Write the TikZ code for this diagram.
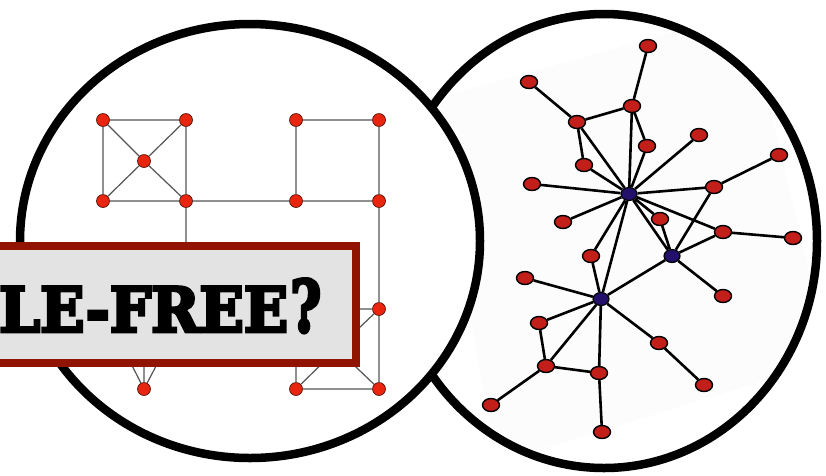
\documentclass[tikz,border=0pt]{standalone}
\usepackage{fontspec}
\usepackage{graphicx}
\newfontfamily\bannerfont[FakeBold=5]{DejaVu Serif Bold}
\usetikzlibrary{shapes.geometric}
\definecolor{lred}{RGB}{232,37,14}
\definecolor{ledge}{RGB}{85,85,85}
\definecolor{rred}{RGB}{194,31,27}
\definecolor{rblue}{RGB}{34,16,106}
\definecolor{bannerred}{RGB}{145,20,0}
\definecolor{bannergray}{RGB}{227,227,227}
\begin{document}
\begin{tikzpicture}[x=1pt,y=-1pt,
  lnode/.style={circle,fill=lred,draw=black!70!lred,line width=0.6pt,minimum size=13pt,inner sep=0pt},
  ledgestyle/.style={draw=ledge,line width=1.2pt},
  rnode/.style={ellipse,fill=rred,draw=black,line width=1.4pt,minimum width=17pt,minimum height=13pt,inner sep=0pt},
  hnode/.style={ellipse,fill=rblue,draw=black,line width=1.2pt,minimum width=16pt,minimum height=13pt,inner sep=0pt},
  redge/.style={draw=black,line width=2.6pt},
  ring/.style={fill=white,draw=black,line width=8.5pt}]
\clip (0,0) rectangle (826,475);
\fill[white] (0,0) rectangle (826,475);

% right circle (photo)
\filldraw[ring] (604,241) ellipse [x radius=213pt, y radius=227pt];
\begin{scope}
  \clip (604,241) ellipse [x radius=208pt, y radius=222pt];
  \fill[black!1] (430,100) -- (747,12) -- (830,360) -- (497,463) -- cycle;
\end{scope}

% right graph nodes
\node[rnode] (n1) at (648,46) {};
\node[rnode] (n2) at (529,82) {};
\node[rnode] (n3) at (632,106) {};
\node[rnode] (n4) at (577,122) {};
\node[rnode] (n5) at (647,146) {};
\node[rnode] (n6) at (699,135) {};
\node[rnode] (n7) at (584,165) {};
\node[rnode] (n8) at (532,184) {};
\node[hnode] (h1) at (629,194) {};
\node[rnode] (n9) at (779,155) {};
\node[rnode] (n10) at (714,187) {};
\node[rnode] (n11) at (563,222) {};
\node[rnode] (n12) at (660,219) {};
\node[rnode] (n13) at (723,232) {};
\node[rnode] (n14) at (793,238) {};
\node[hnode] (h2) at (672,256) {};
\node[rnode] (n15) at (591,256) {};
\node[rnode] (n16) at (525,278) {};
\node[hnode] (h3) at (601,299) {};
\node[rnode] (n17) at (723,296) {};
\node[rnode] (n18) at (539,323) {};
\node[rnode] (n19) at (659,343) {};
\node[rnode] (n20) at (546,366) {};
\node[rnode] (n21) at (599,373) {};
\node[rnode] (n22) at (491,405) {};
\node[rnode] (n23) at (704,385) {};
\node[rnode] (n24) at (602,432) {};

\path[redge] (n1)--(n3) (n2)--(n4) (n4)--(n3) (n4)--(n7) (n4)--(h1)
  (n3)--(h1) (n3)--(n5) (n5)--(h1) (n7)--(h1) (n6)--(h1) (n8)--(h1)
  (n11)--(h1) (h1)--(n10) (n10)--(n9) (n10)--(h2) (h1)--(n12) (n12)--(h2)
  (h1)--(h2) (h1)--(n13) (n13)--(n14) (n13)--(h2) (h2)--(n17) (h2)--(h3)
  (h1)--(n15) (n15)--(h3) (h1)--(h3) (n16)--(h3) (n18)--(h3) (h3)--(n19)
  (n19)--(n23) (h3)--(n20) (n18)--(n20) (n20)--(n21) (h3)--(n21)
  (n21)--(n24) (n20)--(n22);

% left circle
\filldraw[ring] (250,241) ellipse [x radius=230pt, y radius=217pt];

% left graph
\node[lnode] (a) at (103,120) {};
\node[lnode] (b) at (186,120) {};
\node[lnode] (c) at (144,161) {};
\node[lnode] (d) at (103,201) {};
\node[lnode] (e) at (186,201) {};
\node[lnode] (f) at (296,120) {};
\node[lnode] (g) at (379,120) {};
\node[lnode] (h) at (296,201) {};
\node[lnode] (i) at (379,201) {};
\node[lnode] (j) at (379,309) {};
\node[lnode] (k) at (379,389) {};
\node[lnode] (l) at (296,389) {};
\node[lnode] (m) at (144,389) {};
\coordinate (p) at (296,309);
\coordinate (q) at (337,349);
\coordinate (r) at (103,309);
\coordinate (s) at (186,309);
\coordinate (t) at (144,309);

\path[ledgestyle] (a)--(b) (a)--(d) (b)--(e) (d)--(e) (a)--(c) (b)--(c)
  (d)--(c) (e)--(c) (e)--(h) (f)--(g) (f)--(h) (g)--(i) (h)--(i)
  (i)--(j) (j)--(k) (k)--(l) (e)--(s) (p)--(j) (j)--(q) (k)--(q)
  (l)--(q) (l)--(p) (m)--(r) (m)--(t) (m)--(s);

% banner
\fill[bannerred] (-10,242) rectangle (360,367);
\fill[bannergray] (-10,250) rectangle (352,359);
\node[anchor=south west,inner sep=0pt] (title) at (-1,333)
  {\bannerfont\resizebox{289pt}{45pt}{LE-FREE}\hspace{2pt}\resizebox{31pt}{53pt}{?}};
\end{tikzpicture}
\end{document}
